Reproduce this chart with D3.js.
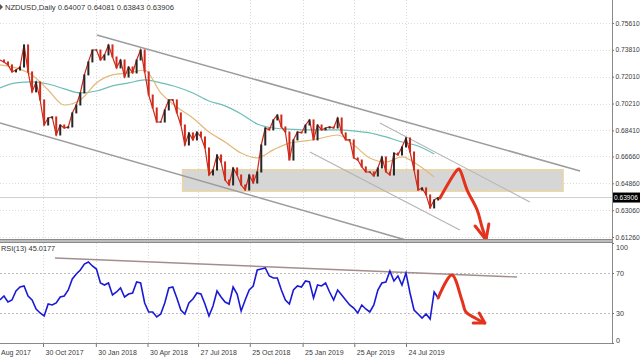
<!DOCTYPE html>
<html><head><meta charset="utf-8">
<script src="https://cdn.jsdelivr.net/npm/d3@7"></script>
<style>body{margin:0;background:#fff}svg{display:block}text{font-family:"Liberation Sans",Arial,sans-serif}</style>
</head><body><svg id="c" width="640" height="360"></svg>
<script>
// ---- data ----
const startWeek = new Date(2017, 7, 16);   // first weekly bar
const closes = [0.7313,0.7300,0.7280,0.7233,0.7246,0.7266,0.7414,0.7233,0.7099,0.7166,
0.7045,0.6877,0.6924,0.6931,0.6810,0.6877,0.6857,0.6864,0.6958,0.7011,
0.7092,0.7213,0.7300,0.7380,0.7380,0.7313,0.7347,0.7414,0.7333,0.7260,
0.7313,0.7199,0.7266,0.7226,0.7313,0.7380,0.7233,0.7078,0.6991,0.6897,
0.6897,0.6978,0.7045,0.7045,0.6958,0.6877,0.6743,0.6824,0.6777,0.6830,
0.6797,0.6723,0.6542,0.6575,0.6676,0.6629,0.6508,0.6475,0.6589,0.6542,
0.6475,0.6441,0.6542,0.6488,0.6562,0.6743,0.6857,0.6844,0.6911,0.6944,
0.6864,0.6830,0.6642,0.6777,0.6830,0.6824,0.6877,0.6911,0.6777,0.6877,
0.6844,0.6857,0.6864,0.6857,0.6924,0.6824,0.6777,0.6777,0.6656,0.6642,
0.6596,0.6562,0.6562,0.6535,0.6589,0.6663,0.6562,0.6542,0.6689,0.6676,
0.6730,0.6790,0.6696,0.6575,0.6441,0.6455,0.6408,0.6321,0.6374,0.63906];
// moving averages, one value every 4 weeks
const maFast = [0.7280,0.7260,0.7213,0.7112,0.7011,0.7045,0.7159,0.7213,0.7226,0.7246,
0.7092,0.6998,0.6924,0.6830,0.6763,0.6689,0.6656,0.6710,0.6756,0.6770,
0.6790,0.6810,0.6743,0.6656,0.6629,0.6663,0.6609,0.6528];
const maSlow = [0.7125,0.7159,0.7166,0.7152,0.7119,0.7092,0.7105,0.7139,0.7159,0.7179,
0.7159,0.7132,0.7092,0.7038,0.7005,0.6951,0.6884,0.6857,0.6850,0.6844,
0.6844,0.6844,0.6837,0.6824,0.6797,0.6763,0.6736,0.6683];
const rsi = [43,47,41,43,52,56,57,47,43,34,
30,27,39,38,40,46,47,53,64,69,
73,79,81,77,74,60,58,60,48,51,
55,46,49,50,61,60,40,31,31,26,
29,40,55,56,45,33,29,40,44,50,
49,39,27,37,52,46,41,39,56,49,
32,43,53,57,73,74,75,67,65,65,
53,43,39,53,57,56,62,61,45,58,
57,60,51,43,53,48,43,38,35,30,
38,34,31,38,53,60,61,72,62,67,
58,70,50,33,29,25,29,24,51,45.0177];
const priceTicks = [0.7561,0.7381,0.7201,0.7021,0.6841,0.6666,0.6486,0.6306,0.6126];
const priceTickLabels = ["0.75610","0.73810","0.72010","0.70210","0.68410","0.66660","0.64860","0.63060","0.61260"];
const rsiTicks = [100,70,30,0];
const rsiLevels = [70,30];
const dateTicks = ["2017-08-01","2017-10-30","2018-01-30","2018-04-30","2018-07-27","2018-10-25","2019-01-25","2019-04-25","2019-07-24"];
const dateTickLabels = ["Aug 2017","30 Oct 2017","30 Jan 2018","30 Apr 2018","27 Jul 2018","25 Oct 2018","25 Jan 2019","25 Apr 2019","24 Jul 2019"];
const titleText = "NZDUSD,Daily 0.64007 0.64081 0.63843 0.63906";
const rsiText = "RSI(13) 45.0177";
const lastPrice = 0.63906;
const lastPriceLabel = "0.63906";
// drawn objects: [week index, price]
const channelMain = [[[24.1,0.7481],[144.3,0.6569]], [[0,0.6891],[103.5,0.6086]]];
const channelInner = [[[94.5,0.6891],[131.8,0.6361]], [[77.1,0.6696],[114.4,0.6173]]];
const zone = {from:45.5, to:140, top:0.6575, bottom:0.6435};
const rsiTrend = [[13.7,85],[128.6,66]];
const priceArrow = [[109.45,0.6388],[113.7,0.6575],[114.2,0.6582],[116.2,0.6441],[118.7,0.6307],[119.9,0.6193],[120.9,0.6113]];
const priceArrowHead = [[118.2,0.6200],[120.9,0.6106],[121.6,0.6213]];
const rsiArrow = [[109.0,45],[112.4,68],[114.9,43],[115.9,31],[118.2,25],[120.6,20]];
const rsiArrowHead = [[117.7,20],[120.6,20],[119.2,30]];

// ---- scales ----
const parse = d3.timeParse("%Y-%m-%d");
const wk = i => new Date(startWeek.getTime() + i * 7 * 864e5);
const x = d3.scaleTime().domain([new Date(2017,9,30), new Date(2019,6,24)]).range([43,406]);
const y = d3.scaleLinear().domain([0.6126,0.7561]).range([237,23]);
const yr = d3.scaleLinear().domain([0,100]).range([343,243]);
const AX = 612;

const svg = d3.select("#c");
const defs = svg.append("defs");
defs.append("clipPath").attr("id","cm").append("rect").attr("x",0).attr("y",0).attr("width",AX).attr("height",240);
defs.append("clipPath").attr("id","cr").append("rect").attr("x",0).attr("y",243).attr("width",AX).attr("height",100);

// grid
const grid = svg.append("g").attr("stroke","#dcdcdc").attr("stroke-dasharray","1,2").attr("stroke-width",1);
priceTicks.forEach(p => grid.append("line").attr("x1",0).attr("x2",AX).attr("y1",Math.round(y(p))+0.5).attr("y2",Math.round(y(p))+0.5));
dateTicks.forEach(d => {
  const xx = Math.round(x(parse(d)))+0.5;
  grid.append("line").attr("x1",xx).attr("x2",xx).attr("y1",0).attr("y2",240);
  grid.append("line").attr("x1",xx).attr("x2",xx).attr("y1",243).attr("y2",343);
});
rsiLevels.forEach(v => svg.append("line").attr("x1",0).attr("x2",AX).attr("y1",yr(v)+0.5).attr("y2",yr(v)+0.5)
  .attr("stroke","#bdbdbd").attr("stroke-dasharray","2,2"));

const main = svg.append("g").attr("clip-path","url(#cm)");
// zone rectangle
main.append("rect").attr("x",x(wk(zone.from))).attr("y",y(zone.top))
  .attr("width",x(wk(zone.to))-x(wk(zone.from))).attr("height",y(zone.bottom)-y(zone.top))
  .attr("fill","#d2d2d2").attr("fill-opacity",0.9).attr("stroke","#e6d6ae").attr("stroke-width",2);
// bid line
main.append("line").attr("x1",0).attr("x2",AX).attr("y1",y(lastPrice)).attr("y2",y(lastPrice)).attr("stroke","#cfcfcf");

const L = d3.line().x(d=>x(wk(d[0]))).y(d=>y(d[1]));
channelMain.forEach(s => main.append("path").attr("d",L(s)).attr("stroke","#9c9c9c").attr("stroke-width",1.6).attr("fill","none"));
channelInner.forEach(s => main.append("path").attr("d",L(s)).attr("stroke","#b4b4b4").attr("stroke-width",1.1).attr("fill","none"));

// moving averages
const maLine = d3.line().x((d,i)=>x(wk(i*4))).y(d=>y(d)).curve(d3.curveMonotoneX);
main.append("path").attr("d",maLine(maSlow)).attr("stroke","#6cbfb8").attr("stroke-width",1.2).attr("fill","none");
main.append("path").attr("d",maLine(maFast)).attr("stroke","#e3b877").attr("stroke-width",1.2).attr("fill","none");

// price
const pl = d3.line().x((d,i)=>x(wk(i))).y(d=>y(d));
main.append("path").attr("d",pl(closes)).attr("stroke","#cc2a1c").attr("stroke-width",1.2).attr("fill","none");
main.selectAll("rect.c").data(closes.slice(1)).join("rect").attr("class","c")
  .attr("x",(d,i)=>x(wk(i+1))-1).attr("width",2)
  .attr("y",(d,i)=>Math.min(y(d),y(closes[i]))-0.5)
  .attr("height",(d,i)=>Math.abs(y(d)-y(closes[i]))+1)
  .attr("fill",(d,i)=> d>=closes[i] ? "#262626" : "#d02a1a");

// arrows
const red = "#e5321c";
const AL = d3.line().x(d=>x(wk(d[0]))).y(d=>y(d[1])).curve(d3.curveCatmullRom);
main.append("path").attr("d",AL(priceArrow)).attr("stroke",red).attr("stroke-width",3).attr("fill","none").attr("stroke-linecap","round").attr("stroke-linejoin","round");
main.append("path").attr("d",L(priceArrowHead)).attr("stroke",red).attr("stroke-width",3).attr("fill","none").attr("stroke-linecap","round").attr("stroke-linejoin","round");

// RSI panel
const sub = svg.append("g").attr("clip-path","url(#cr)");
const RL = d3.line().x(d=>x(wk(d[0]))).y(d=>yr(d[1]));
sub.append("path").attr("d",RL(rsiTrend)).attr("stroke","#a38e8e").attr("stroke-width",1.4).attr("fill","none");
sub.append("path").attr("d",d3.line().x((d,i)=>x(wk(i))).y(d=>yr(d))(rsi)).attr("stroke","#1a1ad6").attr("stroke-width",1.6).attr("fill","none");
const RAL = d3.line().x(d=>x(wk(d[0]))).y(d=>yr(d[1])).curve(d3.curveCatmullRom);
sub.append("path").attr("d",RAL(rsiArrow)).attr("stroke",red).attr("stroke-width",3).attr("fill","none").attr("stroke-linecap","round").attr("stroke-linejoin","round");
sub.append("path").attr("d",RL(rsiArrowHead)).attr("stroke",red).attr("stroke-width",3).attr("fill","none").attr("stroke-linecap","round").attr("stroke-linejoin","round");

// frames
svg.append("rect").attr("x",0).attr("y",240).attr("width",AX).attr("height",2.5).attr("fill","#bdbdbd");
svg.append("line").attr("x1",0).attr("x2",AX).attr("y1",239.5).attr("y2",239.5).attr("stroke","#8a8a8a");
svg.append("line").attr("x1",0).attr("x2",AX).attr("y1",242.5).attr("y2",242.5).attr("stroke","#8a8a8a");
svg.append("line").attr("x1",0).attr("x2",AX).attr("y1",343.5).attr("y2",343.5).attr("stroke","#8a8a8a");
svg.append("line").attr("x1",AX+0.5).attr("x2",AX+0.5).attr("y1",0).attr("y2",344).attr("stroke","#8a8a8a");

// axes
const fs = "6.7px", tc = "#3a3a3a";
const pa = svg.append("g").attr("transform",`translate(${AX},0)`)
  .call(d3.axisRight(y).tickValues(priceTicks).tickFormat((d,i)=>priceTickLabels[i]).tickSize(2).tickPadding(1.5));
pa.select(".domain").remove();
pa.selectAll("line").attr("stroke","#777");
pa.selectAll("text").attr("font-size",fs).attr("fill",tc).attr("font-family","Liberation Sans, Arial, sans-serif");

const ra = svg.append("g").attr("transform",`translate(${AX},0)`)
  .call(d3.axisRight(yr).tickValues(rsiTicks).tickSize(2).tickPadding(2));
ra.select(".domain").remove();
ra.selectAll("line").attr("stroke","#777");
ra.selectAll("text").attr("font-size","7.2px").attr("fill",tc).attr("font-family","Liberation Sans, Arial, sans-serif")
  .attr("dy",d => d===100 ? "0.95em" : d===0 ? "-0.1em" : "0.32em");

const xa = svg.append("g").attr("transform","translate(0,344)")
  .call(d3.axisBottom(x).tickValues(dateTicks.map(parse)).tickFormat((d,i)=>dateTickLabels[i]).tickSize(3).tickPadding(3));
xa.select(".domain").remove();
xa.selectAll("line").attr("stroke","#777");
xa.selectAll("text").attr("font-size","7px").attr("fill",tc).attr("text-anchor","start")
  .attr("x",(d,i)=> i===0 ? 0.5 - x(d) : 2)
  .attr("font-family","Liberation Sans, Arial, sans-serif");

// last price marker
svg.append("rect").attr("x",AX+1).attr("y",y(lastPrice)-5).attr("width",27).attr("height",10).attr("fill","#000");
svg.append("text").attr("x",AX+2).attr("y",y(lastPrice)+2.5).attr("font-size","6.6px").attr("fill","#fff").text(lastPriceLabel);

// labels
svg.append("path").attr("d","M0,4L3,7L0,10Z").attr("fill","#555");
svg.append("text").attr("x",5).attr("y",10).attr("font-size","7.6px").attr("fill","#333").text(titleText);
svg.append("text").attr("x",1).attr("y",251).attr("font-size","7.4px").attr("fill","#333").text(rsiText);
</script></body></html>
